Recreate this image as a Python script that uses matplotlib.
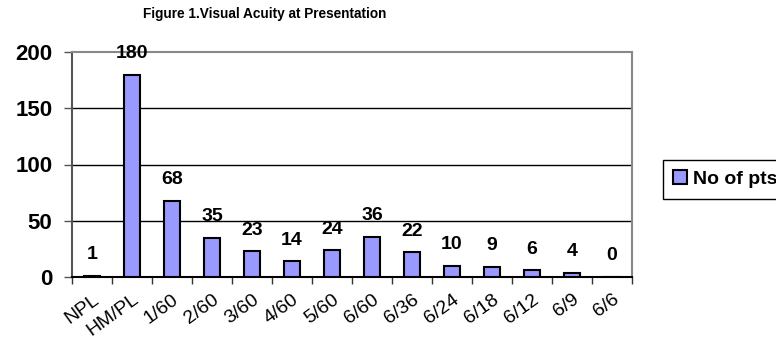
import numpy as np
import matplotlib.pyplot as plt

plt.rcParams['font.family'] = ['Liberation Sans', 'DejaVu Sans']

categories = ['NPL', 'HM/PL', '1/60', '2/60', '3/60', '4/60', '5/60',
              '6/60', '6/36', '6/24', '6/18', '6/12', '6/9', '6/6']
patients = [1, 180, 68, 35, 23, 14, 24, 36, 22, 10, 9, 6, 4, 0]

fig = plt.figure(figsize=(7.76, 3.39), dpi=100)
# plot area in pixels: x 72..632, y 52..277
ax = fig.add_axes([72/776, 1 - 277/339, 560/776, 225/339])

x = np.arange(len(categories))
bars = ax.bar(x, patients, width=0.42, color='#9999ff', edgecolor='black',
              linewidth=1.5, label='No of pts', zorder=3)

ax.set_xlim(-0.5, len(categories) - 0.5)
ax.set_ylim(0, 200)
ax.set_yticks([0, 50, 100, 150, 200])
ax.set_yticklabels(['0', '50', '100', '150', '200'], fontsize=16, fontweight='bold')
for y in [50, 100, 150]:
    ax.axhline(y, color='black', linewidth=1, zorder=1)

# category ticks sit between the bars
ax.set_xticks(np.arange(len(categories) + 1) - 0.5)
ax.set_xticklabels([])
ax.set_xticks(x, minor=True)
ax.set_xticklabels(categories, minor=True, rotation=36, ha='right',
                   rotation_mode='anchor', fontsize=14)
ax.tick_params(axis='x', which='minor', length=0, pad=10)
ax.tick_params(axis='x', which='major', length=5, width=1, color='#333333')
ax.tick_params(axis='y', length=6, width=1, color='#555555', pad=8)

for side in ['top', 'right']:
    ax.spines[side].set_color('#888888')
    ax.spines[side].set_linewidth(1.5)
ax.spines['left'].set_color('#555555')
ax.spines['left'].set_linewidth(1.5)
ax.spines['bottom'].set_color('black')
ax.spines['bottom'].set_linewidth(1.5)

for xi, v in zip(x, patients):
    ax.annotate(str(v), (xi, v), xytext=(0, 9), textcoords='offset points',
                ha='center', va='bottom', fontsize=14, fontweight='bold')

fig.text(265/776, 1 - 14/339, 'Figure 1.Visual Acuity at Presentation',
         ha='center', va='center', fontsize=9.8, fontweight='bold')

leg = fig.legend(handles=[bars], labels=['No of pts'], loc='center left',
                 bbox_to_anchor=(653/776, 1 - 179/339), prop={'size': 14, 'weight': 'bold'},
                 fancybox=False, edgecolor='black', framealpha=1,
                 handlelength=0.7, handleheight=0.7, handletextpad=0.3,
                 borderpad=0.55)
leg.get_frame().set_linewidth(1)

fig.savefig('out.png', dpi=100)
